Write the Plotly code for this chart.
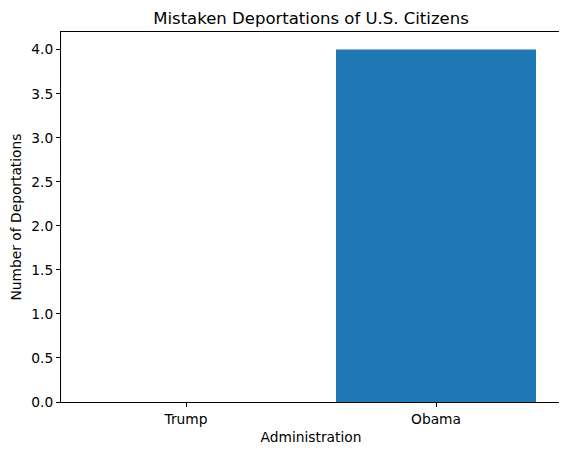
import plotly.graph_objects as go

administrations = ["Trump", "Obama"]
deportations = [0, 4]
y_ticks = [0.0, 0.5, 1.0, 1.5, 2.0, 2.5, 3.0, 3.5, 4.0]

FONT = "DejaVu Sans"

fig = go.Figure(go.Bar(
    x=administrations,
    y=deportations,
    width=0.8,
    marker=dict(color="#1f77b4", line=dict(width=0))
))

axis_style = dict(
    showline=True, mirror=True, linecolor="black", linewidth=1,
    ticks="outside", ticklen=4, tickcolor="black", tickwidth=1,
    showgrid=False, zeroline=False,
    tickfont=dict(family=FONT, size=13.8, color="black"),
)

fig.update_xaxes(
    title=dict(text="Administration", font=dict(family=FONT, size=13.8, color="black"), standoff=6),
    range=[-0.5, 1.5], **axis_style
)
fig.update_yaxes(
    title=dict(text="Number of Deportations", font=dict(family=FONT, size=13.8, color="black"), standoff=8),
    range=[0, 4.2], tickvals=y_ticks, ticktext=[f"{v:.1f}" for v in y_ticks], **axis_style
)

# page body adds an 8px margin, so the figure is sized to fit inside it
fig.update_layout(
    title=dict(
        text="Mistaken Deportations of U.S. Citizens",
        x=0.5, xref="paper", xanchor="center",
        y=1, yref="paper", yanchor="bottom", pad=dict(b=8),
        font=dict(family=FONT, size=16.5, color="black")
    ),
    width=559, height=447,
    margin=dict(l=53, r=6, t=24, b=53),
    plot_bgcolor="white", paper_bgcolor="white",
    showlegend=False
)

fig.write_html("out.html")
